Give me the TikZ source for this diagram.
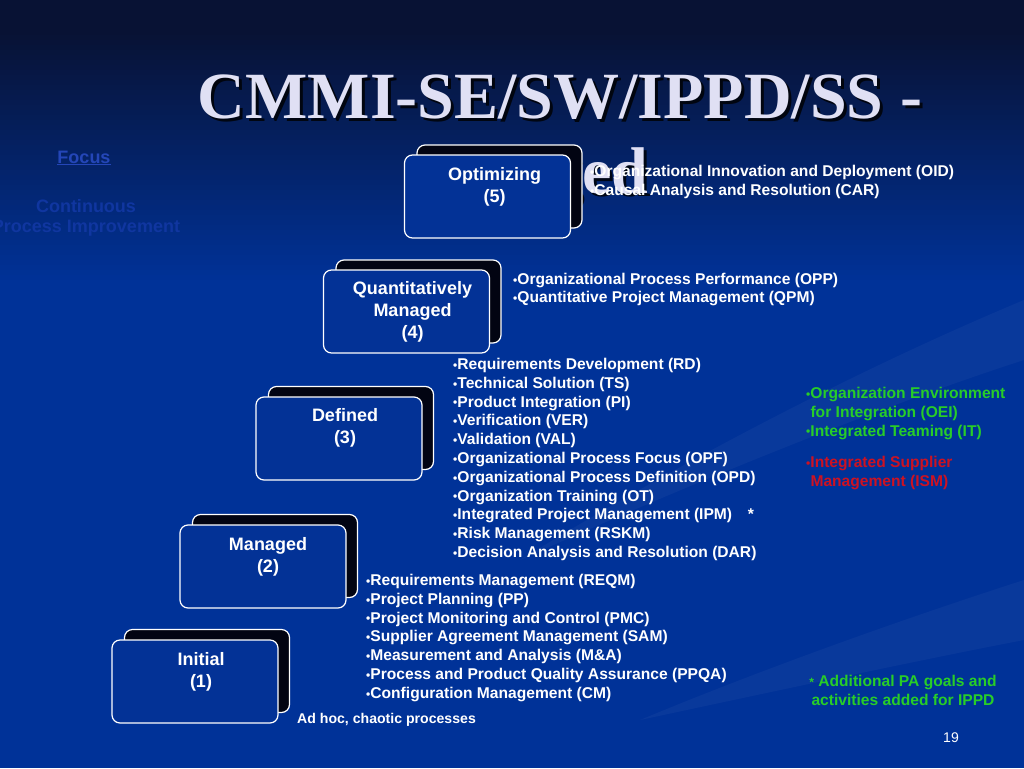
\documentclass[tikz,border=0pt]{standalone}
\usepackage{fontspec}
\setmainfont{Liberation Sans}
\newfontfamily\titlefont{Liberation Serif}
\definecolor{bgtop}{RGB}{8,18,52}
\definecolor{bgmain}{RGB}{0,50,152}
\definecolor{boxblue}{RGB}{3,50,150}
\definecolor{backbox}{RGB}{2,4,18}
\definecolor{titlecol}{RGB}{224,224,244}
\definecolor{focuscol}{RGB}{36,70,184}
\definecolor{focusdim}{RGB}{16,54,160}
\definecolor{ippdgreen}{RGB}{40,205,40}
\definecolor{ismred}{RGB}{205,18,34}
\newcommand\mybul{\raisebox{0.3pt}{\fontsize{12}{12}\selectfont •}}
\begin{document}
\begin{tikzpicture}[x=1pt,y=-1pt,
  backbx/.style={draw=white, line width=1.2pt, fill=backbox, rounded corners=8pt, minimum width=165pt, minimum height=83pt, inner sep=0pt},
  frontbx/.style={draw=white, line width=1.2pt, fill=boxblue, rounded corners=8pt, minimum width=166pt, minimum height=83pt, inner sep=0pt},
  lvltext/.style={anchor=north, align=center, inner sep=0pt, text=white, font=\fontsize{18}{22}\selectfont\bfseries},
  palist/.style={anchor=north west, align=left, inner sep=0pt, text=white, font=\fontsize{15.6}{18.8}\selectfont\bfseries},
  titletxt/.style={anchor=base, inner sep=0pt, font=\titlefont\fontsize{66}{75}\selectfont\bfseries},
  focustxt/.style={anchor=center, inner sep=0pt, font=\fontsize{18}{22}\selectfont\bfseries}
]
\useasboundingbox (0,0) rectangle (1024,768);
% background
\fill[bgmain] (0,0) rectangle (1024,768);
\foreach \i in {0,...,59}{
  \pgfmathtruncatemacro\p{min(100,max(0,(\i-6)*100/50))}
  \fill[bgmain!\p!bgtop] (0,{\i*5}) rectangle (1024,{\i*5+5.6});
}
\fill[white, opacity=0.035] (1024,300) .. controls (880,360) and (700,450) .. (520,560)
  .. controls (720,470) and (900,400) .. (1024,360) -- cycle;
\fill[white, opacity=0.035] (1024,580) .. controls (900,620) and (760,670) .. (640,720)
  .. controls (780,690) and (920,660) .. (1024,640) -- cycle;
% faint focus column
\node[focustxt, text=focuscol] (focus) at (84,158) {\underline{Focus}};
\node[focustxt, text=focusdim] (cont) at (86,206) {Continuous};
\node[focustxt, text=focusdim] (procimp) at (86,228) {Process Improvement};
% title
\node[titletxt, text=black, opacity=0.8] (tshadow1) at (563,121) {CMMI-SE/SW/IPPD/SS -};
\node[titletxt, text=titlecol] (title1) at (560,118) {CMMI-SE/SW/IPPD/SS -};
\node[titletxt, text=black, opacity=0.8] (tshadow2) at (556,196) {Staged};
\node[titletxt, text=titlecol] (title2) at (553,193) {Staged};
% level boxes
\node[backbx] (b5) at (499.5,186.5) {};
\node[frontbx] (f5) at (487.5,196.5) {};
\node[lvltext] (t5) at ([xshift=7pt,yshift=-13pt]f5.north) {Optimizing\\(5)};
\node[backbx] (b4) at (418.5,301.5) {};
\node[frontbx] (f4) at (406.5,311.5) {};
\node[lvltext] (t4) at ([xshift=6pt,yshift=-12pt]f4.north) {Quantitatively\\Managed\\(4)};
\node[backbx] (b3) at (351,428) {};
\node[frontbx] (f3) at (339,438.5) {};
\node[lvltext] (t3) at ([xshift=6pt,yshift=-12pt]f3.north) {Defined\\(3)};
\node[backbx] (b2) at (275,556) {};
\node[frontbx] (f2) at (263,566.5) {};
\node[lvltext] (t2) at ([xshift=5pt,yshift=-13pt]f2.north) {Managed\\(2)};
\node[backbx] (b1) at (207,671) {};
\node[frontbx] (f1) at (195,681.5) {};
\node[lvltext] (t1) at ([xshift=6pt,yshift=-13pt]f1.north) {Initial\\(1)};
% process area lists
\node[palist] (pa5) at (590,165) {\mybul Organizational Innovation and Deployment (OID)\\[0.2pt]\mybul Causal Analysis and Resolution (CAR)};
\node[palist] (pa4) at (513,273) {\mybul Organizational Process Performance (OPP)\\[-0.8pt]\mybul Quantitative Project Management (QPM)};
\node[palist] (pa3) at (453,358) {\mybul Requirements Development (RD)\\
\mybul Technical Solution (TS)\\
\mybul Product Integration (PI)\\
\mybul Verification (VER)\\
\mybul Validation (VAL)\\
\mybul Organizational Process Focus (OPF)\\
\mybul Organizational Process Definition (OPD)\\
\mybul Organization Training (OT)\\
\mybul Integrated Project Management (IPM)\quad*\\
\mybul Risk Management (RSKM)\\
\mybul Decision Analysis and Resolution (DAR)};
\node[palist] (pa2) at (366,574) {\mybul Requirements Management (REQM)\\
\mybul Project Planning (PP)\\
\mybul Project Monitoring and Control (PMC)\\
\mybul Supplier Agreement Management (SAM)\\
\mybul Measurement and Analysis (M\&A)\\
\mybul Process and Product Quality Assurance (PPQA)\\
\mybul Configuration Management (CM)};
\node[anchor=west, inner sep=0pt, text=white, font=\fontsize{14.1}{17}\selectfont\bfseries] (adhoc) at (297,720) {Ad hoc, chaotic processes};
% IPPD / SS additions
\node[palist, text=ippdgreen] (ippd) at (806,387) {\mybul Organization Environment\\ \ for Integration (OEI)\\\mybul Integrated Teaming (IT)};
\node[palist, text=ismred] (ism) at (806,456) {\mybul Integrated Supplier\\ \ Management (ISM)};
\node[anchor=north, align=center, inner sep=0pt, text=ippdgreen, font=\fontsize{15.6}{18.8}\selectfont\bfseries] (note) at (903,675) {{\fontsize{12}{12}\selectfont*} Additional PA goals and\\activities added for IPPD};
\node[anchor=center, inner sep=0pt, text=white, font=\fontsize{14}{17}\selectfont] (pagenum) at (951,738) {19};
\end{tikzpicture}
\end{document}
